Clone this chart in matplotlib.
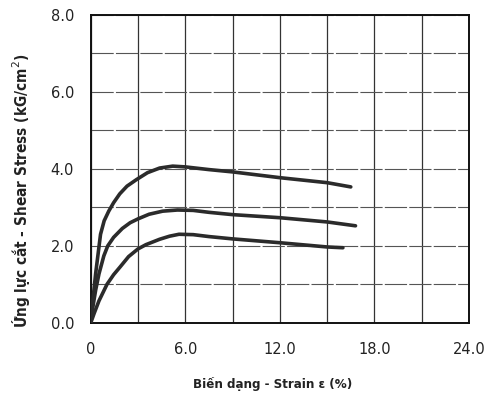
import numpy as np
import matplotlib
matplotlib.use('Agg')
import matplotlib.pyplot as plt
from matplotlib.ticker import MultipleLocator

# strain (%) / shear stress (kG/cm2)
top_x = [0, 0.1, 0.31, 0.62, 0.85, 1.14, 1.45, 1.84, 2.3, 2.9, 3.6, 4.37, 5.2, 6, 7.5, 9, 12, 15, 16.5]
top_y = [0, 0.45, 1.28, 2.3, 2.65, 2.9, 3.12, 3.35, 3.55, 3.72, 3.9, 4.02, 4.07, 4.05, 3.98, 3.92, 3.77, 3.64, 3.53]

mid_x = [0, 0.12, 0.31, 0.52, 0.83, 1.08, 1.45, 2.0, 2.5, 3.0, 3.7, 4.56, 5.5, 6.5, 7.5, 9, 12, 15, 16.8]
mid_y = [0, 0.38, 0.85, 1.27, 1.74, 2.0, 2.22, 2.45, 2.6, 2.7, 2.82, 2.9, 2.93, 2.92, 2.87, 2.81, 2.73, 2.62, 2.52]

bot_x = [0, 0.21, 0.52, 1.03, 1.45, 1.86, 2.4, 3.0, 3.5, 4.37, 5.0, 5.6, 6.5, 7.5, 9, 12, 15, 16.0]
bot_y = [0, 0.24, 0.57, 1.0, 1.25, 1.45, 1.72, 1.92, 2.03, 2.17, 2.25, 2.3, 2.29, 2.24, 2.18, 2.08, 1.97, 1.95]

xticks = [0, 6, 12, 18, 24]
xtick_labels = ['0', '6.0', '12.0', '18.0', '24.0']
yticks = [0, 2, 4, 6, 8]
ytick_labels = ['0.0', '2.0', '4.0', '6.0', '8.0']

fig = plt.figure(figsize=(4.88, 4.01), dpi=100)
ax = fig.add_axes([0.186, 0.195, 0.775, 0.768])

for xs, ys in [(top_x, top_y), (mid_x, mid_y), (bot_x, bot_y)]:
    ax.plot(xs, ys, color='#2b2b2b', lw=2.6, solid_capstyle='round',
            solid_joinstyle='round', zorder=3)

ax.set_xlim(0, 24)
ax.set_ylim(0, 8)
ax.set_xticks(xticks)
ax.set_xticklabels(xtick_labels)
ax.set_yticks(yticks)
ax.set_yticklabels(ytick_labels)
ax.xaxis.set_minor_locator(MultipleLocator(3))
ax.yaxis.set_minor_locator(MultipleLocator(1))

ax.grid(axis='x', which='both', color='#333333', lw=0.9)
ax.grid(axis='y', which='both', color='#555555', lw=0.8, linestyle=(0, (20, 2)))
ax.tick_params(which='both', length=0)
ax.tick_params(axis='x', pad=14, labelsize=10.5, colors='#222222')
ax.tick_params(axis='y', pad=12, labelsize=10.5, colors='#222222')
for s in ax.spines.values():
    s.set_linewidth(1.4)
    s.set_color('#111111')

ax.set_xlabel('Biến dạng - Strain ε (%)', family='DejaVu Sans', fontstretch='condensed',
              fontweight='bold', fontsize=9.5, color='#222222')
ax.set_ylabel('Ứng lực cắt - Shear Stress (kG/cm$^2$)', family='DejaVu Sans',
              fontstretch='condensed', fontweight='bold', fontsize=11, color='#222222')
ax.xaxis.set_label_coords(0.48, -0.175)
ax.yaxis.set_label_coords(-0.155, 0.43)

fig.savefig('out.png', dpi=100)
